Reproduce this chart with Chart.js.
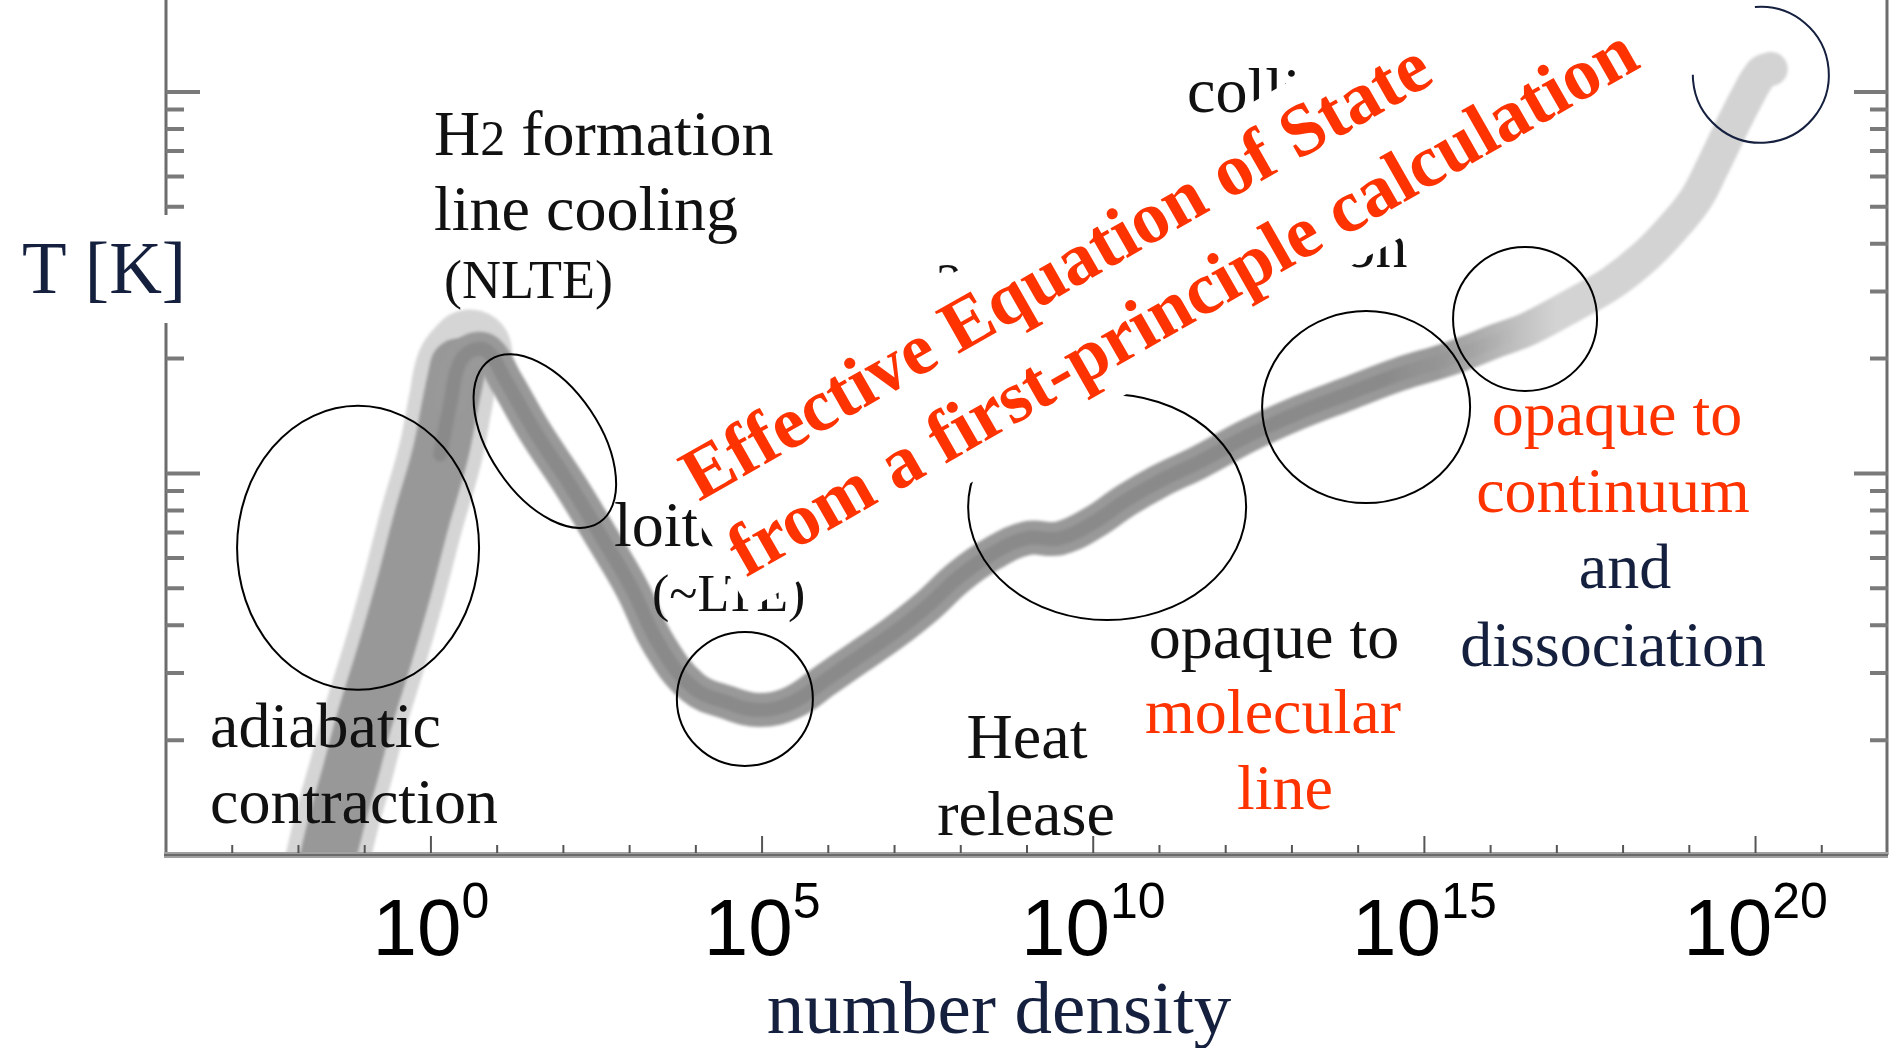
<!DOCTYPE html>
<html>
<head>
<meta charset="utf-8">
<title>Thermal evolution of collapsing gas</title>
<script src="https://cdn.jsdelivr.net/npm/chart.js@4.4.1/dist/chart.umd.min.js"></script>
<style>
  html, body { margin: 0; padding: 0; background: #fff; }
  #eos { display: block; }
</style>
</head>
<body>
<canvas id="eos" width="1890" height="1048"></canvas>
<script>
// track of the collapsing core: log10 n [cm^-3] vs log10 T [K]
const logDensity = [
  -1.60, -1.42, -1.21, -1.01, -0.69, -0.41, -0.14, 0.14, 0.30, 0.41,
   0.59,  0.85,  1.14,  1.57,  2.10,  2.59,  3.03, 3.45, 3.95, 4.47,
   4.96,  5.46,  5.97,  6.47,  6.97,  7.48,  7.98, 8.48, 8.99, 9.49,
   9.99, 10.50, 11.00, 11.60, 12.35, 13.11, 13.86, 14.62, 15.37, 16.12,
  16.58, 17.33, 17.83, 18.34, 18.73, 19.10, 19.34, 19.59, 19.85, 20.09,
  20.23
];
const logTemp = [
  0.96, 1.09, 1.22, 1.35, 1.53, 1.70, 1.88, 2.05, 2.19, 2.28,
  2.32, 2.32, 2.24, 2.11, 1.97, 1.83, 1.70, 1.55, 1.44, 1.40,
  1.38, 1.40, 1.46, 1.52, 1.58, 1.65, 1.73, 1.79, 1.83, 1.83,
  1.87, 1.93, 1.98, 2.03, 2.10, 2.16, 2.21, 2.26, 2.30, 2.35,
  2.38, 2.45, 2.50, 2.57, 2.64, 2.72, 2.80, 2.89, 2.98, 3.05,
  3.06
];

// axis ranges (decades) and labelled ticks
const densityRange = [-4, 22];
const tempRange = [1, 3.241];
const densityLabelExps = [0, 5, 10, 15, 20];
const tempDecades = [1, 2, 3];

const INK = '#111111';
const NAVY = '#15203f';
const RED = '#ff3300';
const SERIF = '"Liberation Serif", "Times New Roman", serif';
const SANS = '"Liberation Sans", Arial, sans-serif';

// regions circled on the track: centre in log n / log T, radii in px
const rings = [
  { n: -1.10, t: 1.805, rx: 121, ry: 142, rot: 0 },
  { n: 1.72, t: 2.085, rx: 98, ry: 55, rot: 56 },
  { n: 4.74, t: 1.409, rx: 68, ry: 67, rot: 0 },
  { n: 10.21, t: 1.912, rx: 139, ry: 113, rot: 0 },
  { n: 14.12, t: 2.174, rx: 104, ry: 96, rot: 0 },
  { n: 16.52, t: 2.405, rx: 72, ry: 72, rot: 0 },
  { n: 20.08, t: 3.045, rx: 68, ry: 68, rot: 0, from: -95, to: 180, color: NAVY }
];

const notes = [
  { text: 'line cooling', x: 434, y: 230 },
  { text: '(NLTE)', x: 444, y: 298, size: 54 },
  { text: 'adiabatic', x: 210, y: 747 },
  { text: 'contraction', x: 210, y: 823 },
  { text: 'loitering', x: 614, y: 546 },
  { text: '(~LTE)', x: 652, y: 611, size: 52 },
  { text: 'Heat', x: 1027, y: 758, align: 'center' },
  { text: 'release', x: 1026, y: 835, align: 'center' },
  { text: 'opaque to', x: 1274, y: 658, align: 'center' },
  { text: 'molecular', x: 1273, y: 733, align: 'center', color: RED },
  { text: 'line', x: 1285, y: 809, align: 'center', color: RED },
  { text: 'opaque to', x: 1617, y: 435, align: 'center', color: RED },
  { text: 'continuum', x: 1613, y: 512, align: 'center', color: RED },
  { text: 'and', x: 1625, y: 588, align: 'center', color: NAVY },
  { text: 'dissociation', x: 1613, y: 666, align: 'center', color: NAVY },
  // mostly covered by the banner
  { text: 'collision', x: 1187, y: 112 },
  { text: 'induced', x: 1187, y: 190 },
  { text: 'emission', x: 1180, y: 267 },
  { text: '3-body', x: 936, y: 300, size: 52 }
];

const point = i => ({ x: Math.pow(10, logDensity[i]), y: Math.pow(10, logTemp[i]) });
const track = (from, to) => logDensity.slice(from, to + 1).map((_, k) => point(from + k));

// colour that changes along the density axis (stops given in log n)
function alongDensity(stops, fallback) {
  return function (context) {
    const chart = context.chart;
    if (!chart.chartArea) return fallback;
    const xs = chart.scales.x;
    const x0 = xs.getPixelForValue(Math.pow(10, densityRange[0]));
    const x1 = xs.getPixelForValue(Math.pow(10, densityRange[1]));
    const g = chart.ctx.createLinearGradient(x0, 0, x1, 0);
    stops.forEach(s => {
      const px = xs.getPixelForValue(Math.pow(10, s[0]));
      g.addColorStop((px - x0) / (x1 - x0), s[1]);
    });
    return g;
  };
}

function trackSet(label, from, to, color, width, order) {
  return {
    label: label,
    data: track(from, to),
    borderColor: color,
    borderWidth: width,
    borderCapStyle: 'round',
    borderJoinStyle: 'round',
    pointRadius: 0,
    tension: 0.4,
    fill: false,
    clip: 0,
    order: order
  };
}

function drawNote(ctx, t) {
  ctx.font = (t.size || 64) + 'px ' + SERIF;
  ctx.fillStyle = t.color || INK;
  ctx.textAlign = t.align || 'left';
  ctx.textBaseline = 'alphabetic';
  ctx.fillText(t.text, t.x, t.y);
}

const paperWhite = {
  id: 'paperWhite',
  beforeDraw(chart) {
    const ctx = chart.ctx;
    ctx.save();
    ctx.fillStyle = '#fff';
    ctx.fillRect(0, 0, chart.width, chart.height);
    ctx.restore();
  }
};

// the density track is a soft smudge, not a crisp line
const softTrack = {
  id: 'softTrack',
  beforeDatasetsDraw(chart) {
    chart.ctx.save();
    chart.ctx.filter = 'blur(1.4px)';
  },
  afterDatasetsDraw(chart) {
    chart.ctx.restore();
  }
};

const decor = {
  id: 'decor',
  afterDraw(chart) {
    const ctx = chart.ctx;
    const area = chart.chartArea;
    const xs = chart.scales.x;
    const ys = chart.scales.y;
    ctx.save();

    // frame: left / right axes, heavy bottom axis
    ctx.strokeStyle = '#6c6c6c';
    ctx.lineWidth = 3;
    ctx.beginPath();
    ctx.moveTo(area.left, area.top);
    ctx.lineTo(area.left, area.bottom);
    ctx.moveTo(area.right - 1, area.top);
    ctx.lineTo(area.right - 1, area.bottom);
    ctx.stroke();
    ctx.strokeStyle = '#a0a0a0';
    ctx.lineWidth = 6;
    ctx.beginPath();
    ctx.moveTo(area.left - 2, area.bottom);
    ctx.lineTo(area.right, area.bottom);
    ctx.stroke();
    ctx.strokeStyle = '#6a6a6a';
    ctx.lineWidth = 2;
    ctx.stroke();

    // temperature ticks, inward on both sides
    ctx.strokeStyle = '#7a7a7a';
    ctx.lineWidth = 4;
    const tMax = Math.pow(10, tempRange[1]);
    tempDecades.forEach(d => {
      for (let m = 1; m <= 9; m++) {
        const v = m * Math.pow(10, d);
        if (v > tMax || (d === tempDecades[0] && m === 1)) continue;
        const y = ys.getPixelForValue(v);
        const len = m === 1 ? 34 : 18;
        ctx.beginPath();
        ctx.moveTo(area.left, y);
        ctx.lineTo(area.left + len, y);
        ctx.moveTo(area.right, y);
        ctx.lineTo(area.right - len, y);
        ctx.stroke();
      }
    });

    // density ticks, one per decade
    ctx.strokeStyle = '#555';
    ctx.lineWidth = 2;
    for (let e = densityRange[0] + 1; e < densityRange[1]; e++) {
      const x = xs.getPixelForValue(Math.pow(10, e));
      const len = e % 5 === 0 ? 17 : 8;
      ctx.beginPath();
      ctx.moveTo(x, area.bottom - 2);
      ctx.lineTo(x, area.bottom - 2 - len);
      ctx.stroke();
    }

    // y title sits on a white patch that breaks the axis
    ctx.fillStyle = '#fff';
    ctx.fillRect(0, 215, 202, 108);
    ctx.font = '73px ' + SERIF;
    ctx.fillStyle = NAVY;
    ctx.textAlign = 'left';
    ctx.fillText('T [K]', 22, 293);

    // circled regions
    rings.forEach(r => {
      const cx = xs.getPixelForValue(Math.pow(10, r.n));
      const cy = ys.getPixelForValue(Math.pow(10, r.t));
      const a0 = (r.from === undefined ? 0 : r.from) * Math.PI / 180;
      const a1 = (r.to === undefined ? 360 : r.to) * Math.PI / 180;
      ctx.beginPath();
      ctx.ellipse(cx, cy, r.rx, r.ry, r.rot * Math.PI / 180, a0, a1);
      ctx.strokeStyle = r.color || '#000';
      ctx.lineWidth = 2;
      ctx.stroke();
    });

    // H2 formation with a smaller "2"
    ctx.fillStyle = INK;
    ctx.textAlign = 'left';
    ctx.font = '64px ' + SERIF;
    ctx.fillText('H', 434, 155);
    let hx = 434 + ctx.measureText('H').width;
    ctx.font = '50px ' + SERIF;
    ctx.fillText('2', hx, 155);
    hx += ctx.measureText('2').width;
    ctx.font = '64px ' + SERIF;
    ctx.fillText(' formation', hx, 155);

    notes.forEach(t => drawNote(ctx, t));

    // banner on its own white slab
    ctx.save();
    ctx.translate(699, 502);
    ctx.rotate(-29.7 * Math.PI / 180);
    ctx.fillStyle = '#fff';
    ctx.fillRect(-10, -73, 1110, 191);
    ctx.font = 'bold 74px ' + SERIF;
    ctx.fillStyle = RED;
    ctx.textAlign = 'left';
    ctx.fillText('Effective Equation of State', 0, 0);
    ctx.fillText('from a first-principle calculation', 3, 89);
    ctx.restore();

    // density tick labels 10^k
    ctx.fillStyle = '#000';
    ctx.textAlign = 'left';
    densityLabelExps.forEach(e => {
      const x = xs.getPixelForValue(Math.pow(10, e));
      ctx.font = '80px ' + SANS;
      const wb = ctx.measureText('10').width;
      ctx.font = '50px ' + SANS;
      const we = ctx.measureText(String(e)).width;
      const x0 = x - (wb + we) / 2;
      ctx.font = '80px ' + SANS;
      ctx.fillText('10', x0, 955);
      ctx.font = '50px ' + SANS;
      ctx.fillText(String(e), x0 + wb, 918);
    });

    ctx.font = '75px ' + SERIF;
    ctx.fillStyle = NAVY;
    ctx.textAlign = 'center';
    ctx.fillText('number density', 999, 1033);

    ctx.restore();
  }
};

new Chart(document.getElementById('eos'), {
  type: 'line',
  data: {
    datasets: [
      trackSet('halo', 0, 10, '#d5d5d5', 84, 6),
      trackSet('adiabatic', 0, 9, '#989898', 56, 4),
      trackSet('track', 8, 50, alongDensity([[15.2, '#999999'], [17.0, '#d3d3d3']], '#999999'), 34, 2),
      trackSet('core', 7, 40, alongDensity([[14.4, '#8a8a8a'], [16.4, 'rgba(160,160,160,0)']], '#8a8a8a'), 14, 1)
    ]
  },
  options: {
    responsive: false,
    animation: false,
    events: [],
    layout: { padding: { left: 166, right: 2, top: 0, bottom: 193 } },
    plugins: { legend: { display: false }, tooltip: { enabled: false } },
    scales: {
      x: {
        type: 'logarithmic',
        display: false,
        min: Math.pow(10, densityRange[0]),
        max: Math.pow(10, densityRange[1])
      },
      y: {
        type: 'logarithmic',
        display: false,
        min: Math.pow(10, tempRange[0]),
        max: Math.pow(10, tempRange[1])
      }
    }
  },
  plugins: [paperWhite, softTrack, decor]
});
</script>
</body>
</html>
